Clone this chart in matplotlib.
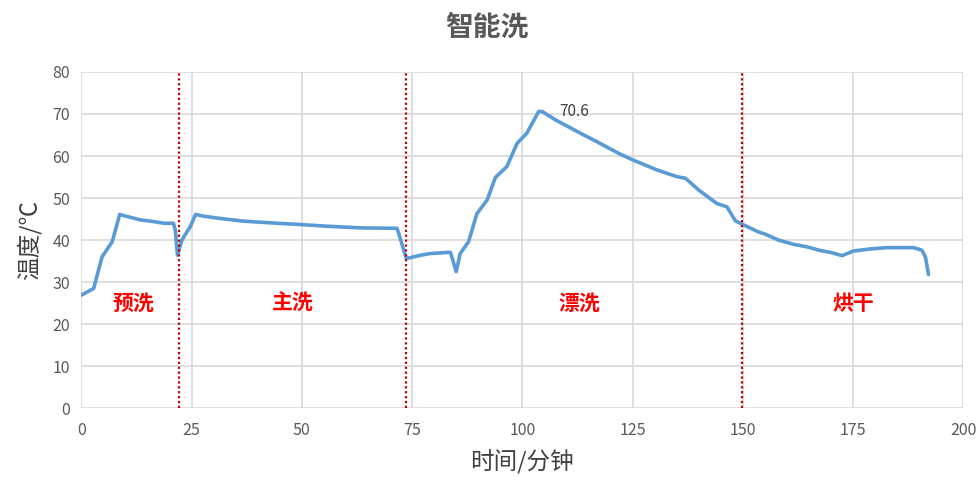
import matplotlib.pyplot as plt

plt.rcParams['font.family'] = ['Noto Sans CJK SC', 'DejaVu Sans']

# 时间 (分钟) 与 温度 (°C)
time_min = [0, 2.8, 3.5, 4.7, 7, 8.7, 10.4, 13.4, 16.4, 18.7, 20.9, 21.3, 21.8,
            22.8, 24.7, 25.9, 27.7, 31.1, 36.8, 44.4, 49.7, 55.7, 63.3, 71.6,
            73.7, 76.9, 79.1, 83.7, 85.0, 85.9, 87.8, 89.7, 92.0, 93.9, 96.5,
            98.8, 101.0, 103.7, 104.5, 107.5, 113.2, 116.9, 121.9, 125.2, 130.5,
            135.0, 137.0, 140.0, 144.1, 146.4, 148.3, 149.8, 153.4, 155.1, 158.1,
            161.5, 164.5, 167.6, 169.8, 172.5, 175.1, 178.9, 182.7, 188.7, 190.6,
            191.4, 192.1]
temp_c = [26.9, 28.5, 31.3, 36.0, 39.6, 46.1, 45.6, 44.8, 44.4, 44.0, 44.0, 42.4, 36.4,
          40.0, 43.2, 46.1, 45.7, 45.2, 44.5, 44.0, 43.7, 43.3, 42.9, 42.8,
          35.6, 36.4, 36.8, 37.1, 32.5, 36.8, 39.6, 46.3, 49.5, 54.9, 57.5,
          63.0, 65.4, 70.6, 70.6, 68.6, 65.4, 63.4, 60.6, 59.0, 56.7,
          55.1, 54.7, 51.9, 48.7, 47.9, 44.6, 43.8, 42.0, 41.4, 40.0,
          39.0, 38.4, 37.5, 37.1, 36.3, 37.4, 37.9, 38.2, 38.2, 37.6,
          36.0, 31.8]

stage_bounds = [22.2, 73.7, 149.9]
stage_names = ['预洗', '主洗', '漂洗', '烘干']
stage_x = [11.8, 48, 113, 175]
peak_label = '70.6'

fig, ax = plt.subplots(figsize=(9.8, 4.86), dpi=100)
fig.subplots_adjust(left=0.083, right=0.983, top=0.852, bottom=0.16)

ax.plot(time_min, temp_c, color='#5b9bd5', linewidth=2.6, zorder=3,
        solid_joinstyle='round', solid_capstyle='round')

for xb in stage_bounds:
    ax.axvline(xb, color='#c00000', linestyle=(0, (1, 1.2)), linewidth=1.6, zorder=4)

for name, xs in zip(stage_names, stage_x):
    ax.text(xs, 25, name, color='#ff0000', fontsize=15, fontweight='bold',
            ha='center', va='center')

ax.text(111.8, 70.6, peak_label, color='#404040', fontsize=11, ha='center', va='center')

ax.set_xlim(0, 200)
ax.set_ylim(0, 80)
ax.set_xticks(range(0, 201, 25))
ax.set_yticks(range(0, 81, 10))
ax.grid(True, color='#d9d9d9', linewidth=1.2)
ax.set_axisbelow(True)
for s in ax.spines.values():
    s.set_visible(False)
ax.tick_params(length=0, labelsize=11.5, colors='#595959')
ax.tick_params(axis='x', pad=10)
ax.tick_params(axis='y', pad=8)

fig.suptitle('智能洗', fontsize=20, fontweight='bold', color='#595959', x=0.497, y=0.972)
ax.set_xlabel('时间/分钟', fontsize=17, color='#404040', labelpad=8)
ax.set_ylabel('温度/℃', fontsize=17, color='#404040', labelpad=8)

fig.savefig('out.png', dpi=100)
